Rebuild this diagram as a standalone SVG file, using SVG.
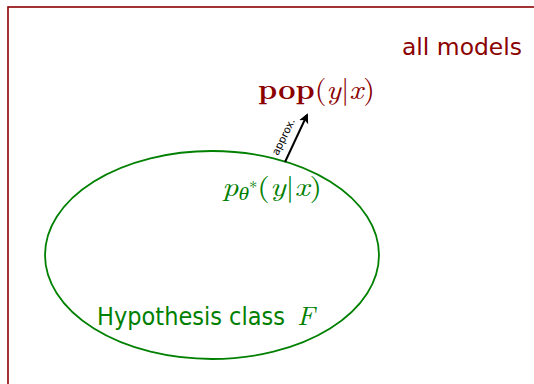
<svg xmlns="http://www.w3.org/2000/svg" width="534" height="384" viewBox="0 0 534 384">
<style>
.frame{fill:none;stroke:#8b0000;stroke-width:1.6}
.hyp{fill:none;stroke:#008000;stroke-width:1.8}
.sans{font-family:"DejaVu Sans","Liberation Sans",sans-serif}
.serif{font-family:"Latin Modern Roman","Liberation Serif","DejaVu Serif",serif}
.red{fill:#8b0000}
.green{fill:#008000}
.conn{stroke:#000;stroke-width:2;fill:none}
</style>
<defs>
<marker id="ah" viewBox="0 0 10 10" refX="8" refY="5" markerWidth="10" markerHeight="10" orient="auto" markerUnits="userSpaceOnUse">
<path d="M0,0 L10,5 L0,10 L2.5,5 Z" fill="#000"/>
</marker>
</defs>
<rect class="frame" x="8" y="7" width="540" height="390"/>
<g id="all-models">
<text class="sans red" x="402" y="55" font-size="23" textLength="120" lengthAdjust="spacingAndGlyphs">all models</text>
</g>
<g id="hypothesis-class">
<ellipse class="hyp" cx="212" cy="255" rx="167" ry="104"/>
<text class="sans green" x="97" y="325" font-size="24" textLength="188" lengthAdjust="spacingAndGlyphs">Hypothesis class</text>
<text class="serif green" x="297" y="325" font-size="27" font-style="italic">F</text>
</g>
<g id="p-theta">
<text class="serif green" x="222" y="196" font-size="27" textLength="100" lengthAdjust="spacingAndGlyphs"><tspan font-style="italic">p</tspan><tspan font-style="italic" font-size="18" dy="4">θ</tspan><tspan font-size="14" dy="-8">*</tspan><tspan dy="4">(</tspan><tspan font-style="italic">y</tspan>|<tspan font-style="italic">x</tspan>)</text>
</g>
<g id="pop">
<text class="serif red" x="258" y="99" font-size="28" textLength="117" lengthAdjust="spacingAndGlyphs"><tspan font-weight="bold">pop</tspan>(<tspan font-style="italic">y</tspan>|<tspan font-style="italic">x</tspan>)</text>
</g>
<g id="connectors">
<line class="conn" x1="285" y1="162" x2="307" y2="115" marker-end="url(#ah)"/>
<text class="sans" font-size="10.5" transform="translate(278,156) rotate(-64)" x="0" y="0" fill="#000">approx.</text>
</g>
</svg>
